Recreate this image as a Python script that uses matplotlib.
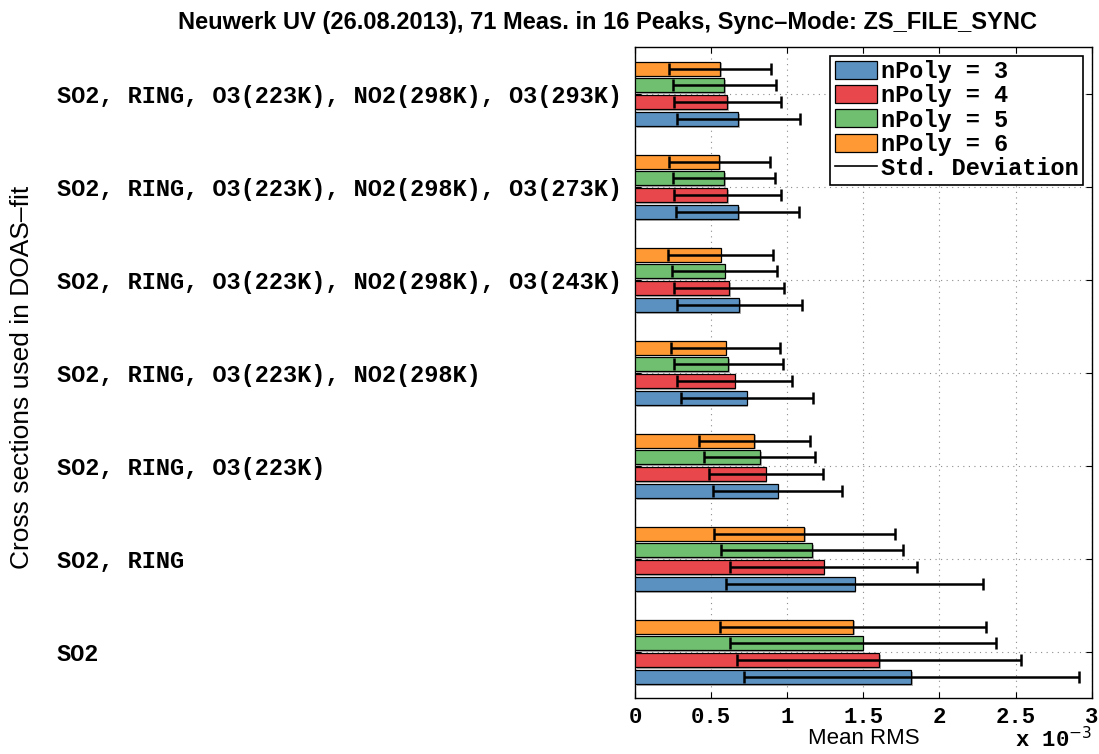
import numpy as np
import matplotlib
matplotlib.use('Agg')
import matplotlib.pyplot as plt
from matplotlib.patches import Patch
from matplotlib.lines import Line2D
import matplotlib.patheffects as pe

# data (Mean RMS in units of 1e-3), groups from bottom to top
cross_sections = ['SO2', 'SO2, RING', 'SO2, RING, O3(223K)',
                  'SO2, RING, O3(223K), NO2(298K)',
                  'SO2, RING, O3(223K), NO2(298K), O3(243K)',
                  'SO2, RING, O3(223K), NO2(298K), O3(273K)',
                  'SO2, RING, O3(223K), NO2(298K), O3(293K)']
npoly_labels = ['nPoly = 3', 'nPoly = 4', 'nPoly = 5', 'nPoly = 6']

mean_p3 = [1.815, 1.443, 0.936, 0.733, 0.684, 0.676, 0.678]
mean_p4 = [1.603, 1.240, 0.859, 0.654, 0.617, 0.606, 0.606]
mean_p5 = [1.496, 1.163, 0.820, 0.614, 0.590, 0.584, 0.586]
mean_p6 = [1.432, 1.111, 0.783, 0.595, 0.562, 0.555, 0.558]

std_p3 = [1.098, 0.845, 0.426, 0.433, 0.410, 0.404, 0.405]
std_p4 = [0.933, 0.614, 0.373, 0.376, 0.360, 0.352, 0.352]
std_p5 = [0.874, 0.595, 0.365, 0.357, 0.344, 0.337, 0.338]
std_p6 = [0.873, 0.594, 0.364, 0.358, 0.343, 0.334, 0.337]

means = [mean_p3, mean_p4, mean_p5, mean_p6]
stds = [std_p3, std_p4, std_p5, std_p6]
colors = ['#5B91C1', '#E8484B', '#70BE6F', '#FF9933']

mono = 'Liberation Mono'
sans = 'Liberation Sans'
fs = 17

fig = plt.figure(figsize=(10.99, 7.54), dpi=100)
ax = fig.add_axes([0.5778, 0.0739, 0.9934 - 0.5778, 0.9373 - 0.0739])

y = np.arange(1, len(cross_sections) + 1)
offsets = [-0.27, -0.09, 0.09, 0.27]
shadow = [pe.SimplePatchShadow(offset=(1.2, -1.2), shadow_rgbFace='0.5', alpha=0.6), pe.Normal()]

for mean, std, color, off in zip(means, stds, colors, offsets):
    bars = ax.barh(y + off, mean, height=0.15, color=color, edgecolor='black',
                   linewidth=0.9, zorder=3)
    for b in bars:
        b.set_path_effects(shadow)
    ax.errorbar(mean, y + off, xerr=std, fmt='none', ecolor='black',
                elinewidth=1.8, capsize=4, capthick=1.8, zorder=4)

ax.set_xlim(0, 3)
ax.set_ylim(0.5, 7.5)
ax.set_xticks([0, 0.5, 1, 1.5, 2, 2.5, 3])
ax.set_xticklabels(['0', '0.5', '1', '1.5', '2', '2.5', '3'],
                   fontfamily=mono, fontweight='bold', fontsize=16)
ax.set_yticks(y)
ax.set_yticklabels(cross_sections, fontfamily=mono, fontweight='bold', fontsize=fs)
for lbl in ax.get_yticklabels():
    lbl.set_horizontalalignment('left')
ax.tick_params(axis='y', pad=(635 - 57) * 0.72)
ax.tick_params(axis='x', pad=6)
ax.tick_params(direction='in', length=4.5, width=0.8, top=True, right=True)
ax.grid(True, color='0.55', linestyle=(0, (1, 4)), linewidth=0.8, zorder=0)
ax.set_axisbelow(True)
for s in ax.spines.values():
    s.set_linewidth(1.0)

ax.set_xlabel('Mean RMS', fontfamily=sans, fontsize=16, labelpad=0)
fig.text(1092 / 1099, 0.002, r'x 10$^{-3}$', ha='right', va='bottom',
         fontfamily=mono, fontweight='bold', fontsize=16)
fig.text(22 / 1099, 0.5, 'Cross sections used in DOAS\u2013fit', rotation=90,
         ha='center', va='center', fontfamily=sans, fontsize=19)
fig.text(608 / 1099, 1 - 23 / 754,
         'Neuwerk UV (26.08.2013), 71 Meas. in 16 Peaks, Sync\u2013Mode: ZS_FILE_SYNC',
         ha='center', va='center', fontfamily=sans, fontweight='bold', fontsize=17)

handles = [Patch(facecolor=c, edgecolor='black', linewidth=0.9) for c in colors]
handles.append(Line2D([], [], color='black', linewidth=1.2))
leg = ax.legend(handles, npoly_labels + ['Std. Deviation'], loc='upper right',
                prop={'family': mono, 'weight': 'bold', 'size': fs},
                fancybox=False, framealpha=1, edgecolor='black',
                handlelength=1.8, handleheight=0.8, handletextpad=0.15,
                labelspacing=0.05, borderpad=0.2, borderaxespad=0.35)
leg.get_frame().set_linewidth(1.2)
leg.set_zorder(5)

fig.savefig('out.png', dpi=100)
